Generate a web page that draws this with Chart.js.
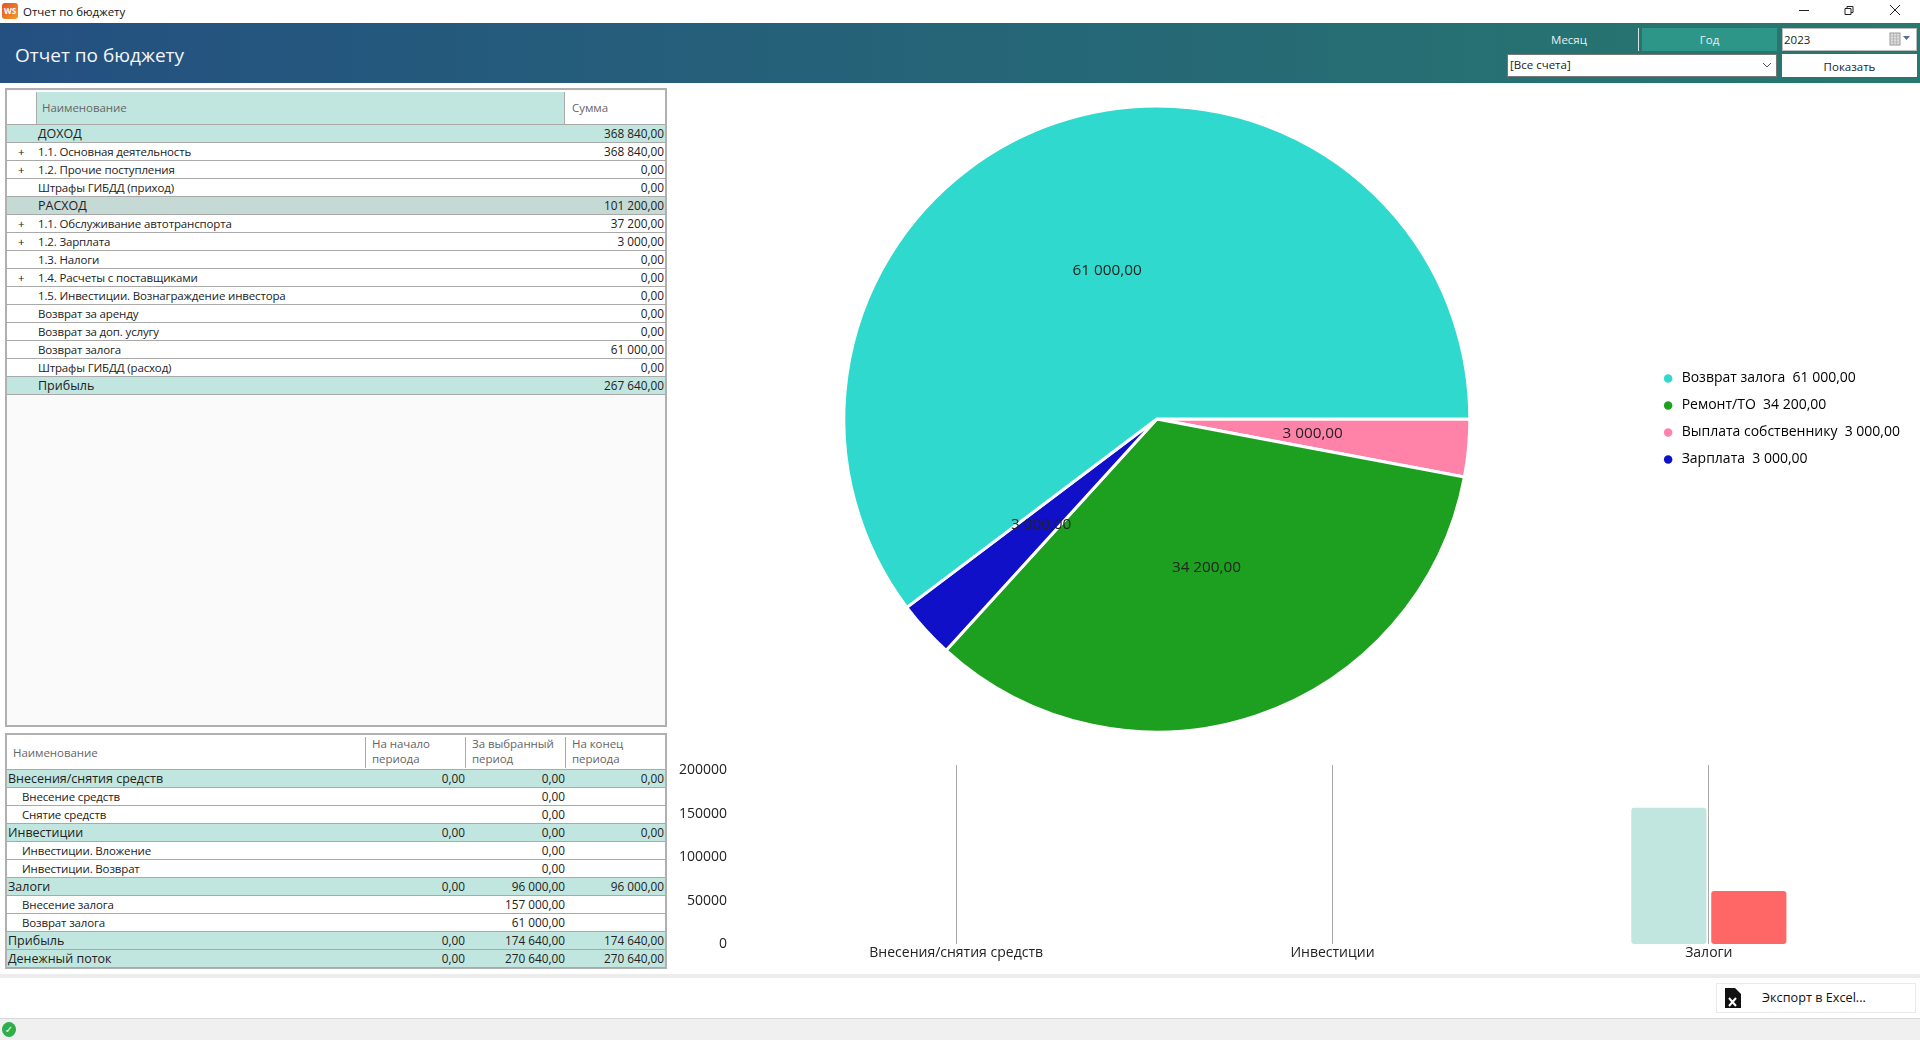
<!DOCTYPE html>
<html lang="ru">
<head>
<meta charset="utf-8">
<title>Отчет по бюджету</title>
<script src="https://cdn.jsdelivr.net/npm/chart.js@4"></script>
<style>
  html, body { margin: 0; padding: 0; background: #fff; overflow: hidden; }
  body { width: 1920px; height: 1040px; position: relative; font-family: "Open Sans", sans-serif; font-size: 12px; color: #222; }
  .abs { position: absolute; white-space: nowrap; box-sizing: border-box; }
  canvas, svg { display: block; }
  canvas { position: absolute; }
  #head { left: 0; top: 23px; width: 1920px; height: 60px; background: linear-gradient(90deg, #245081, #27796e); }
  #headTitle { left: 15px; top: 41px; color: #f2f6f8; font-size: 19px; line-height: 28px; }
  .panel { background: #fafafa; border: 2px solid #b0b0b0; }
  .row { left: 0; height: 18px; width: 662px; border-bottom: 1px solid #a9a9a9; line-height: 17px; font-size: 11.5px; background: #fff; }
  .row.group { background: #c1e6df; }
  .row.out { background: #c5d9d5; }
  .cell { position: absolute; top: 0; white-space: nowrap; }
  .name { letter-spacing: -0.15px; }
  .num { font-size: 11.8px; }
  .hcell { color: #666; font-size: 11.5px; line-height: 18px; letter-spacing: -0.05px; }
</style>
</head>
<body>
<script>
// данные графиков
const pieLabels = ['Выплата собственнику', 'Ремонт/ТО', 'Зарплата', 'Возврат залога'];
const pieValues = [3000, 34200, 3000, 61000];
const pieColors = ['#ff82a8', '#1da01f', '#0f10c8', '#30d9ce'];

const barCategories = ['Внесения/снятия средств', 'Инвестиции', 'Залоги'];
const barIn = [0, 0, 157000];
const barOut = [0, 0, 61000];
const barTicks = [0, 50000, 100000, 150000, 200000];

// верхняя таблица
const budgetNames = ['ДОХОД', '1.1. Основная деятельность', '1.2. Прочие поступления', 'Штрафы ГИБДД (приход)',
  'РАСХОД', '1.1. Обслуживание автотранспорта', '1.2. Зарплата', '1.3. Налоги', '1.4. Расчеты с поставщиками',
  '1.5. Инвестиции. Вознаграждение инвестора', 'Возврат за аренду', 'Возврат за доп. услугу', 'Возврат залога',
  'Штрафы ГИБДД (расход)', 'Прибыль'];
const budgetSums = [368840, 368840, 0, 0, 101200, 37200, 3000, 0, 0, 0, 0, 0, 61000, 0, 267640];
const budgetPlus = [1, 2, 5, 6, 8];
const budgetGroups = [0, 14];
const budgetOutRow = 4;

// нижняя таблица
const flowNames = ['Внесения/снятия средств', 'Внесение средств', 'Снятие средств', 'Инвестиции', 'Инвестиции. Вложение',
  'Инвестиции. Возврат', 'Залоги', 'Внесение залога', 'Возврат залога', 'Прибыль', 'Денежный поток'];
const flowStart = [0, null, null, 0, null, null, 0, null, null, 0, 0];
const flowPeriod = [0, 0, 0, 0, 0, 0, 96000, 157000, 61000, 174640, 270640];
const flowEnd = [0, null, null, 0, null, null, 96000, null, null, 174640, 270640];

function money(v) {
  return String(v).replace(/\B(?=(\d{3})+$)/g, ' ') + ',00';
}

function addEl(parent, cls, css, text) {
  const el = document.createElement('div');
  el.className = cls;
  el.style.cssText = css;
  if (text !== undefined) el.textContent = text;
  parent.appendChild(el);
  return el;
}

function svgEl(css, inner) {
  const box = addEl(document.body, 'abs', css);
  box.innerHTML = inner;
  return box;
}

// заголовок окна
addEl(document.body, 'abs', 'left:2px;top:3px;width:16px;height:16px;border-radius:3px;background:linear-gradient(135deg,#e4502a,#f59a23);color:#fff;font:bold 8px/16px "Open Sans";text-align:center;', 'WS');
addEl(document.body, 'abs', 'left:23px;top:3px;font-size:11.5px;line-height:17px;color:#111;', 'Отчет по бюджету');
svgEl('left:1795px;top:4px;width:120px;height:16px;',
  '<svg width="120" height="16" fill="none" stroke="#222" stroke-width="1">' +
  '<path d="M4 6.5H14"/><path d="M50 4.5h6v6h-6z M52 4.5v-2h6v6h-2"/><path d="M95 1l10 10M105 1l-10 10"/></svg>');

// шапка
addEl(document.body, 'abs', '', '').id = 'head';
addEl(document.body, 'abs', '', 'Отчет по бюджету').id = 'headTitle';
addEl(document.body, 'abs', 'left:1507px;top:28px;width:124px;height:23px;text-align:center;color:#e6f2f0;font-size:11.5px;line-height:23px;', 'Месяц');
addEl(document.body, 'abs', 'left:1638px;top:28px;width:1px;height:23px;background:#d5e6e3;');
addEl(document.body, 'abs', 'left:1642px;top:28px;width:135px;height:23px;background:#2e9688;text-align:center;color:#e6f2f0;font-size:11.5px;line-height:23px;', 'Год');
addEl(document.body, 'abs', 'left:1782px;top:28px;width:135px;height:23px;background:#fff;border:1px solid #bbb;padding-left:1px;font-size:11.5px;line-height:21px;', '2023');
svgEl('left:1889px;top:32px;width:26px;height:14px;',
  '<svg width="26" height="14"><rect x="1" y="1" width="10" height="12" fill="#ddd" stroke="#999"/><path d="M2 4h8M2 7h8M2 10h8M4.5 1v12M7.5 1v12" stroke="#aaa" stroke-width=".6"/><path d="M14 4h7l-3.5 4z" fill="#5a6a8a"/></svg>');
addEl(document.body, 'abs', 'left:1507px;top:54px;width:270px;height:23px;background:#fff;border:1px solid #777;padding-left:2px;font-size:11.5px;line-height:20px;', '[Все счета]');
svgEl('left:1762px;top:62px;width:10px;height:8px;',
  '<svg width="10" height="8" fill="none" stroke="#555"><path d="M1 1l4 4 4-4"/></svg>');
addEl(document.body, 'abs', 'left:1782px;top:54px;width:135px;height:23px;background:#fff;text-align:center;font-size:11.5px;line-height:25px;', 'Показать');

// верхняя таблица
const budgetPanel = addEl(document.body, 'abs panel', 'left:5px;top:88px;width:662px;height:639px;');
addEl(budgetPanel, 'abs', 'left:0;top:1px;width:658px;height:34px;background:#fff;border-bottom:1px solid #a9a9a9;');
addEl(budgetPanel, 'abs', 'left:29px;top:2px;width:529px;height:32px;background:#c1e6df;border-left:1px solid #aaa;border-right:1px solid #aaa;');
addEl(budgetPanel, 'abs hcell', 'left:35px;top:9px;', 'Наименование');
addEl(budgetPanel, 'abs hcell', 'left:565px;top:9px;', 'Сумма');
budgetNames.forEach((name, i) => {
  const row = addEl(budgetPanel, 'abs row', `top:${35 + i * 18}px;width:658px;`);
  const big = budgetGroups.includes(i) || i === budgetOutRow;
  if (budgetGroups.includes(i)) row.classList.add('group');
  if (i === budgetOutRow) row.classList.add('out');
  if (budgetPlus.includes(i)) addEl(row, 'cell', 'left:11px;', '+');
  addEl(row, big ? 'cell' : 'cell name', big ? 'left:31px;font-size:12.5px;' : 'left:31px;', name);
  addEl(row, 'cell num', 'right:1px;', money(budgetSums[i]));
});

// нижняя таблица
const flowPanel = addEl(document.body, 'abs panel', 'left:5px;top:733px;width:662px;height:236px;');
addEl(flowPanel, 'abs', 'left:0;top:0;width:658px;height:35px;background:#fff;border-bottom:1px solid #a9a9a9;');
addEl(flowPanel, 'abs hcell', 'left:6px;top:9px;', 'Наименование');
[['На начало', 'периода', 366], ['За выбранный', 'период', 466], ['На конец', 'периода', 566]].forEach(h => {
  addEl(flowPanel, 'abs', `left:${h[2] - 8}px;top:2px;width:1px;height:31px;background:#aaa;`);
  addEl(flowPanel, 'abs hcell', `left:${h[2] - 1}px;top:1px;line-height:15px;`, h[0]);
  addEl(flowPanel, 'abs hcell', `left:${h[2] - 1}px;top:16px;line-height:15px;`, h[1]);
});
flowNames.forEach((name, i) => {
  const row = addEl(flowPanel, 'abs row', `top:${35 + i * 18}px;width:658px;`);
  const isGroup = flowStart[i] !== null;
  if (isGroup) row.classList.add('group');
  addEl(row, isGroup ? 'cell' : 'cell name', isGroup ? 'left:1px;font-size:12.5px;' : 'left:15px;', name);
  if (flowStart[i] !== null) addEl(row, 'cell num', 'right:200px;', money(flowStart[i]));
  addEl(row, 'cell num', 'right:100px;', money(flowPeriod[i]));
  if (flowEnd[i] !== null) addEl(row, 'cell num', 'right:1px;', money(flowEnd[i]));
});

// низ окна
addEl(document.body, 'abs', 'left:0;top:974px;width:1920px;height:4px;background:#ececec;');
addEl(document.body, 'abs', 'left:1716px;top:983px;width:200px;height:30px;background:#fff;border:1px solid #eaeaea;');
svgEl('left:1724px;top:988px;width:18px;height:20px;',
  '<svg width="18" height="20"><path d="M1 0h10l6 6v14H1z" fill="#111"/><path d="M5 10l7 8M12 10l-7 8" stroke="#fff" stroke-width="2"/></svg>');
addEl(document.body, 'abs', 'left:1762px;top:987px;font-size:12.7px;line-height:20px;color:#111;', 'Экспорт в Excel...');
addEl(document.body, 'abs', 'left:0;top:1018px;width:1920px;height:22px;background:#f0f0f0;border-top:1px solid #d8d8d8;');
addEl(document.body, 'abs', 'left:2px;top:1022px;width:14px;height:15px;border-radius:50%;background:#2fae4a;color:#fff;font:bold 10px/15px "DejaVu Sans";text-align:center;', '✓');

// круговая диаграмма
const pieCanvas = document.createElement('canvas');
pieCanvas.style.cssText = 'left:665px;top:99px;';
pieCanvas.width = 1245;
pieCanvas.height = 640;
document.body.appendChild(pieCanvas);

const sliceLabels = {
  id: 'sliceLabels',
  afterDatasetsDraw(chart) {
    const ctx = chart.ctx;
    ctx.save();
    ctx.font = '15.3px "Open Sans"';
    ctx.fillStyle = '#222';
    ctx.textAlign = 'center';
    ctx.textBaseline = 'middle';
    chart.getDatasetMeta(0).data.forEach((arc, i) => {
      const p = arc.tooltipPosition();
      ctx.fillText(money(pieValues[i]), p.x, p.y);
    });
    ctx.restore();
  }
};

new Chart(pieCanvas, {
  type: 'pie',
  data: {
    labels: pieLabels,
    datasets: [{ data: pieValues, backgroundColor: pieColors, borderColor: '#fff', borderWidth: 3 }]
  },
  options: {
    responsive: false,
    animation: false,
    devicePixelRatio: 1,
    rotation: 90,
    radius: 313,
    plugins: {
      tooltip: { enabled: false },
      legend: {
        position: 'right',
        labels: {
          usePointStyle: true,
          boxWidth: 13,
          boxHeight: 6,
          padding: 13,
          color: '#444',
          font: { family: '"Open Sans"', size: 14 },
          generateLabels: chart => pieLabels.map((name, i) => ({
            text: name + '  ' + money(pieValues[i]),
            fillStyle: pieColors[i],
            strokeStyle: pieColors[i],
            lineWidth: 0,
            pointStyle: 'circle',
            index: i
          })),
          sort: (a, b) => pieValues[b.index] - pieValues[a.index]
        }
      }
    }
  },
  plugins: [sliceLabels]
});

// столбцы
const barCanvas = document.createElement('canvas');
barCanvas.style.cssText = 'left:670px;top:760px;';
barCanvas.width = 1227;
barCanvas.height = 212;
document.body.appendChild(barCanvas);

new Chart(barCanvas, {
  type: 'bar',
  data: {
    labels: barCategories,
    datasets: [
      { data: barIn, backgroundColor: '#c1e6df', borderRadius: 3, borderSkipped: false, barPercentage: 0.94, categoryPercentage: 0.425 },
      { data: barOut, backgroundColor: '#ff6666', borderRadius: 3, borderSkipped: false, barPercentage: 0.94, categoryPercentage: 0.425 }
    ]
  },
  options: {
    responsive: false,
    animation: false,
    devicePixelRatio: 1,
    layout: { padding: { top: 5 } },
    plugins: { legend: { display: false }, tooltip: { enabled: false } },
    scales: {
      x: {
        grid: { offset: false, color: '#a9a9a9', drawTicks: false },
        border: { display: false },
        ticks: { color: '#222', padding: 1, font: { family: '"Open Sans"', size: 14 } },
        afterFit: scale => { scale.height = 28; scale.paddingLeft = 0; scale.paddingRight = 0; }
      },
      y: {
        min: 0,
        max: 206300,
        grid: { display: false },
        border: { display: false },
        ticks: {
          padding: 33,
          color: '#222',
          font: { family: '"Open Sans"', size: 14 },
          callback: value => String(value)
        },
        afterBuildTicks: scale => { scale.ticks = barTicks.map(value => ({ value })); },
        afterFit: scale => { scale.width = 98; scale.paddingTop = 0; scale.paddingBottom = 0; }
      }
    }
  }
});
</script>
</body>
</html>
